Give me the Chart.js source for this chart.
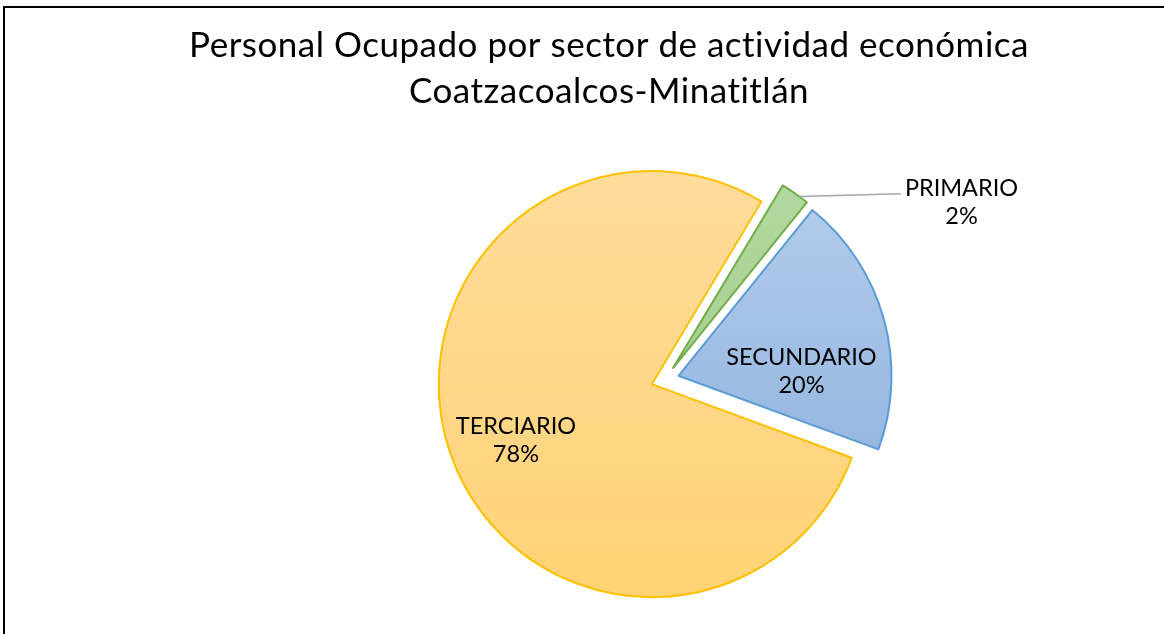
<!DOCTYPE html>
<html>
<head>
<meta charset="utf-8">
<title>Personal Ocupado por sector</title>
<script src="https://cdn.jsdelivr.net/npm/chart.js@4.4.0/dist/chart.umd.min.js"></script>
<style>
  html, body { margin: 0; padding: 0; background: #fff; overflow: hidden; }
  #wrap { width: 1164px; height: 634px; }
</style>
</head>
<body>
<div id="wrap"><canvas id="chart" width="1164" height="634"></canvas></div>
<script>
// ── Data ──
const titleLines = ['Personal Ocupado por sector de actividad económica', 'Coatzacoalcos-Minatitlán'];
const sectors = ['PRIMARIO', 'SECUNDARIO', 'TERCIARIO'];
const shares = [2.2, 19.8, 78.0];

// ── Styles ──
const explode = [14, 14, 14];              // px each slice is pulled out
const fillTop = ['#B4D8A2', '#B6CEEB', '#FFDC9B'];
const fillBottom = ['#9DC984', '#85ACDD', '#FFD274'];
const borderColors = ['#70AD47', '#5B9BD5', '#FFC000'];
// label placement relative to the slice: distance (x radius) and turn (deg) off the mid angle
const labelPlacement = [
  { dist: 1.563, turn: 25.1, leader: true },
  { dist: 0.578, turn: 13 },
  { dist: 0.69, turn: -3 }
];
const fontFamily = 'Lato, "Open Sans", sans-serif';

// Black frame of the chart box (right and bottom edges fall outside the picture)
const framePlugin = {
  id: 'frame',
  beforeDraw(chart) {
    const ctx = chart.ctx;
    ctx.save();
    ctx.strokeStyle = '#000';
    ctx.lineWidth = 2;
    ctx.beginPath();
    ctx.moveTo(4, 700);
    ctx.lineTo(4, 7);
    ctx.lineTo(1200, 7);
    ctx.stroke();
    ctx.restore();
  }
};

// Draw each arc shifted along its mid angle (exploded pie)
const explodePlugin = {
  id: 'explode',
  beforeDatasetDraw(chart, args) {
    const ctx = chart.ctx;
    args.meta.data.forEach((arc, i) => {
      const mid = (arc.startAngle + arc.endAngle) / 2;
      ctx.save();
      ctx.translate(Math.cos(mid) * explode[i], Math.sin(mid) * explode[i]);
      arc.draw(ctx);
      ctx.restore();
    });
    return false;
  }
};

// Title + data labels
const labelPlugin = {
  id: 'sectorLabels',
  afterDraw(chart) {
    const ctx = chart.ctx;
    const meta = chart.getDatasetMeta(0);
    const total = shares.reduce((a, b) => a + b, 0);
    ctx.save();
    ctx.fillStyle = '#000';
    ctx.textAlign = 'center';
    ctx.textBaseline = 'alphabetic';
    ctx.font = '35px ' + fontFamily;
    ctx.letterSpacing = '0.5px';
    titleLines.forEach((t, i) => ctx.fillText(t, 609, 57 + i * 46));

    ctx.font = '23.5px ' + fontFamily;
    ctx.letterSpacing = '0px';
    meta.data.forEach((arc, i) => {
      const mid = (arc.startAngle + arc.endAngle) / 2;
      const cx = arc.x + Math.cos(mid) * explode[i];
      const cy = arc.y + Math.sin(mid) * explode[i];
      const p = labelPlacement[i];
      const a = mid + p.turn * Math.PI / 180;
      const lx = cx + Math.cos(a) * p.dist * arc.outerRadius;
      const ly = cy + Math.sin(a) * p.dist * arc.outerRadius;
      const pct = Math.round(shares[i] / total * 100) + '%';
      ctx.fillText(sectors[i], lx, ly - 6);
      ctx.fillText(pct, lx, ly + 22);
      if (p.leader) {
        const sa = mid + 1.4 * Math.PI / 180;
        const sx = cx + Math.cos(sa) * arc.outerRadius;
        const sy = cy + Math.sin(sa) * arc.outerRadius;
        const w = ctx.measureText(sectors[i]).width;
        ctx.strokeStyle = '#A6A6A6';
        ctx.lineWidth = 1.5;
        ctx.beginPath();
        ctx.moveTo(sx, sy);
        ctx.lineTo(lx - w / 2 - 4, ly - 8);
        ctx.stroke();
      }
    });
    ctx.restore();
  }
};

function sliceFill(c) {
  const i = c.dataIndex;
  const area = c.chart.chartArea;
  if (!area) return fillTop[i];
  const g = c.chart.ctx.createLinearGradient(0, 171, 0, 598);
  g.addColorStop(0, fillTop[i]);
  g.addColorStop(1, fillBottom[i]);
  return g;
}

new Chart(document.getElementById('chart'), {
  type: 'pie',
  data: {
    labels: sectors,
    datasets: [{
      data: shares,
      backgroundColor: sliceFill,
      borderColor: borderColors,
      borderWidth: 2,
      borderJoinStyle: 'round',
      hoverOffset: 0
    }]
  },
  options: {
    responsive: false,
    animation: false,
    events: [],
    rotation: 31,
    radius: 213,
    layout: { padding: { top: 155, bottom: 30, left: 300, right: 134 } },
    plugins: {
      legend: { display: false },
      tooltip: { enabled: false },
      title: { display: false }
    }
  },
  plugins: [framePlugin, explodePlugin, labelPlugin]
});
</script>
</body>
</html>
